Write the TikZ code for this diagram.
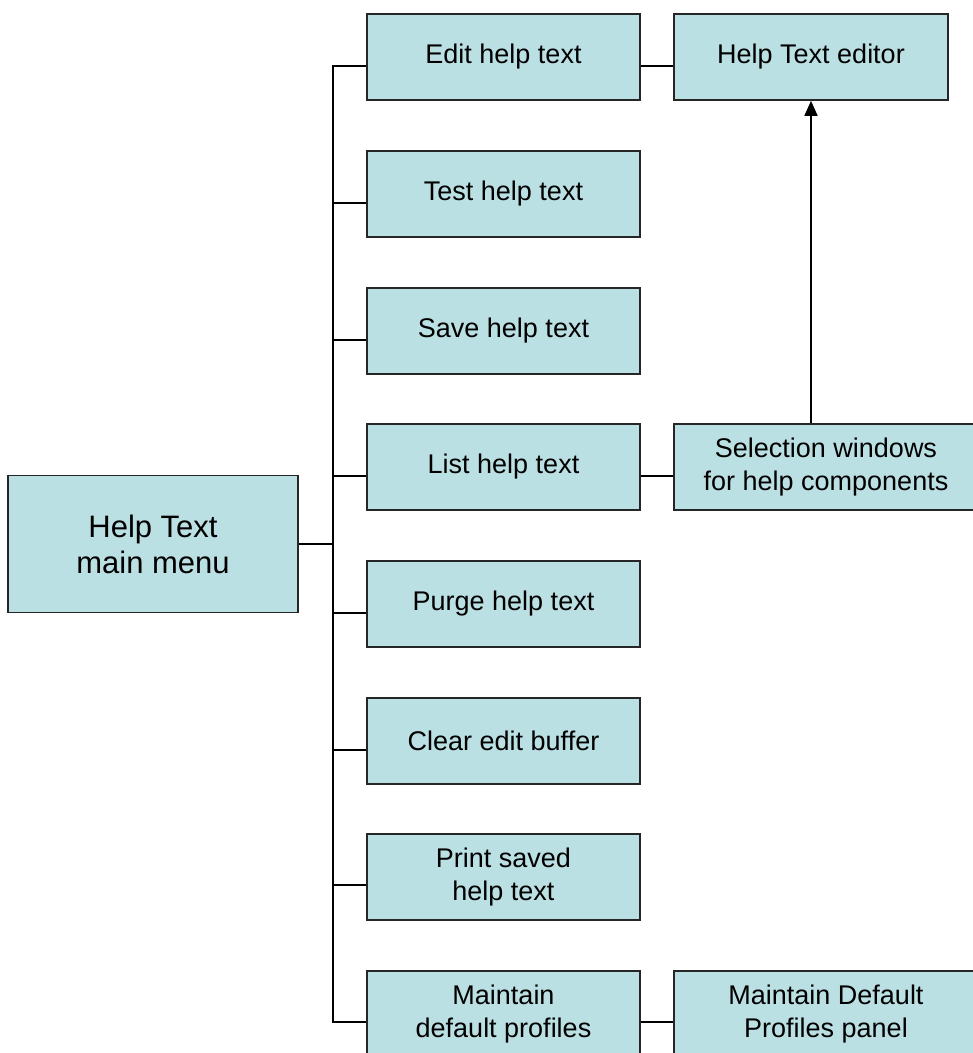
\documentclass[tikz,border=0pt]{standalone}
\usepackage{fontspec}
\setmainfont{Liberation Sans}
\usepackage{xcolor}
\usetikzlibrary{arrows.meta}
\definecolor{boxfill}{RGB}{187,224,227}
\tikzset{
  menubox/.style={draw=black!85,line width=1.6pt,fill=boxfill,align=center,
    minimum width=273pt,minimum height=86pt,inner sep=0pt,
    font=\fontsize{27}{33}\selectfont},
  widebox/.style={menubox,minimum width=304pt},
}

\begin{document}
\begin{tikzpicture}[x=1pt,y=-1pt,line width=1.6pt]
				\useasboundingbox (0,0) rectangle (973,1053);
				\node[menubox,minimum width=290pt,minimum height=137pt,
				  font=\fontsize{31}{36}\selectfont] (main) at (153,544) {Help Text\\main menu};
				\node[menubox] (edit) at (503.5,57) {Edit help text};
				\node[menubox] (test) at (503.5,194) {Test help text};
				\node[menubox] (save) at (503.5,331) {Save help text};
				\node[menubox] (list) at (503.5,467) {List help text};
				\node[menubox] (purge) at (503.5,604) {Purge help text};
				\node[menubox] (clear) at (503.5,741) {Clear edit buffer};
				\node[menubox] (print) at (503.5,877) {Print saved\\help text};
				\node[menubox] (maint) at (503.5,1014) {Maintain\\default profiles};
				\node[menubox,minimum width=274pt] (editor) at (811,57) {Help Text editor};
				\node[widebox] (select) at (826,467) {Selection windows\\for help components};
				\node[widebox] (profiles) at (826,1014) {Maintain Default\\Profiles panel};
				% trunk
				\coordinate (trunk) at (333,544);
				\draw ([yshift=-9pt]edit.west) -| (trunk) |- ([yshift=-8pt]maint.west);
				\draw (main.east) -- (trunk);
				\draw ([yshift=-9pt]test.west) -- ([yshift=-9pt]test.west -| trunk);
				\draw ([yshift=-9pt]save.west) -- ([yshift=-9pt]save.west -| trunk);
				\draw ([yshift=-9pt]list.west) -- ([yshift=-9pt]list.west -| trunk);
				\draw ([yshift=-9pt]purge.west) -- ([yshift=-9pt]purge.west -| trunk);
				\draw ([yshift=-9pt]clear.west) -- ([yshift=-9pt]clear.west -| trunk);
				\draw ([yshift=-8pt]print.west) -- ([yshift=-8pt]print.west -| trunk);
				% second level
				\draw ([yshift=-9pt]edit.east) -- ([yshift=-9pt]editor.west);
				\draw ([yshift=-9pt]list.east) -- ([yshift=-9pt]select.west);
				\draw ([yshift=-8pt]maint.east) -- ([yshift=-8pt]profiles.west);
				\draw[-{Triangle[length=15pt,width=13pt]}] (editor.south |- select.north) -- (editor.south);
			\end{tikzpicture}
\end{document}
